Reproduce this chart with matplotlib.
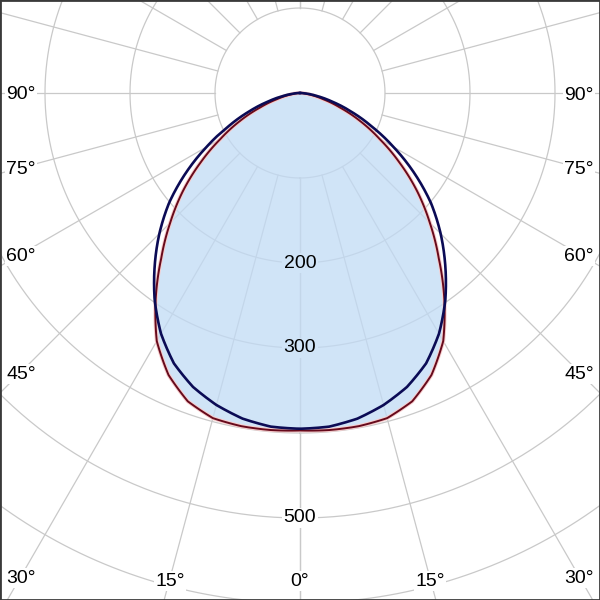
import numpy as np
import matplotlib
matplotlib.use("Agg")
import matplotlib.pyplot as plt
from matplotlib.patches import Rectangle

plt.rcParams["font.family"] = ["Liberation Sans", "DejaVu Sans"]

# Luminous intensity (cd) every 5 deg from nadir, symmetric left/right
angles_deg = [0, 5, 10, 15, 20, 25, 30, 35, 40, 45, 50, 55, 60, 65, 70, 75, 80, 85, 90]
plane_c0 = [395, 394, 389, 380, 368, 351, 327, 298, 266, 234, 201, 164, 127, 93, 64, 39, 20, 7, 0]
plane_c90 = [397, 398, 398, 396, 386, 366, 337, 296, 254, 216, 180, 143, 108, 78, 50, 28, 13, 4, 0]

ring_values = [100, 200, 300, 400, 500, 600, 700]
ring_labels = [200, 300, 500]
spoke_deg = [0, 15, 30, 45, 60, 75, 90, 105, 120, 135, 150, 165, 180]
angle_labels = [0, 15, 30, 45, 60, 75, 90]

# geometry of the picture: pole at (300, 93) px, 0.85 px per cd
W = 600
POLE_X, POLE_Y = 300, 93
PX_PER_CD = 0.85
R_MAX = 700
INSET = 21


def mirrored(vals):
    a = np.asarray(angles_deg, dtype=float)
    v = np.asarray(vals, dtype=float)
    th = np.deg2rad(np.concatenate([-a[::-1], a[1:]]))
    r = np.concatenate([v[::-1], v[1:]])
    return th, r


def smooth_in_polar(artist):
    # let the polar transform follow arcs between points instead of chords
    artist.get_path()._interpolation_steps = 24


fig = plt.figure(figsize=(6, 6), dpi=100)
rad = R_MAX * PX_PER_CD / W
cx, cy = POLE_X / W, 1 - POLE_Y / W
ax = fig.add_axes([cx - rad, cy - rad, 2 * rad, 2 * rad], projection="polar")
ax.set_theta_zero_location("S")
ax.set_rlim(0, R_MAX)
ax.set_axis_off()

grid_kw = dict(color="#c9c9c9", lw=0.9, zorder=1)
full = np.linspace(0, 2 * np.pi, 721)
for rv in ring_values:
    ax.plot(full, np.full_like(full, rv), **grid_kw)
for s in spoke_deg:
    for sign in (1, -1):
        t = np.deg2rad(sign * s)
        ax.plot([t, t], [100, R_MAX], **grid_kw)

th_r, r_r = mirrored(plane_c90)
th_b, r_b = mirrored(plane_c0)

poly = ax.fill(th_r, r_r, color=(0.755, 0.859, 0.959), alpha=0.75, lw=0, zorder=2)[0]
smooth_in_polar(poly)
for ln in ax.plot(th_r, r_r, color="#f8cccc", lw=2.8, zorder=3):
    smooth_in_polar(ln)
for ln in ax.plot(th_r, r_r, color="#660a1c", lw=1.4, zorder=4):
    smooth_in_polar(ln)
for ln in ax.plot(th_b, r_b, color="#0b0b55", lw=1.9, zorder=5):
    smooth_in_polar(ln)

for v in ring_labels:
    inside = v < plane_c90[0]
    ax.text(0, v, str(v), ha="center", va="center", fontsize=14, zorder=6,
            bbox=dict(facecolor="#d0e4f7" if inside else "white", edgecolor="none", pad=1))

# angle labels sit where each spoke crosses a rectangle inset from the frame
for a in angle_labels:
    t = np.deg2rad(a)
    side = (W / 2 - INSET) / np.sin(t) if a > 0 else np.inf
    bottom = (W - POLE_Y - INSET) / np.cos(t) if a < 90 else np.inf
    r_lab = min(side, bottom) / PX_PER_CD
    for sign in ((1, -1) if a > 0 else (1,)):
        ax.text(sign * t, r_lab, f"{a}°", ha="center", va="center_baseline", fontsize=14, zorder=6,
                bbox=dict(facecolor="white", edgecolor="none", pad=1))

fig.patches.append(Rectangle((0, 0), 1, 1, transform=fig.transFigure, fill=False,
                             edgecolor="#3a3a3a", lw=2))

fig.savefig("out.png", dpi=100)
